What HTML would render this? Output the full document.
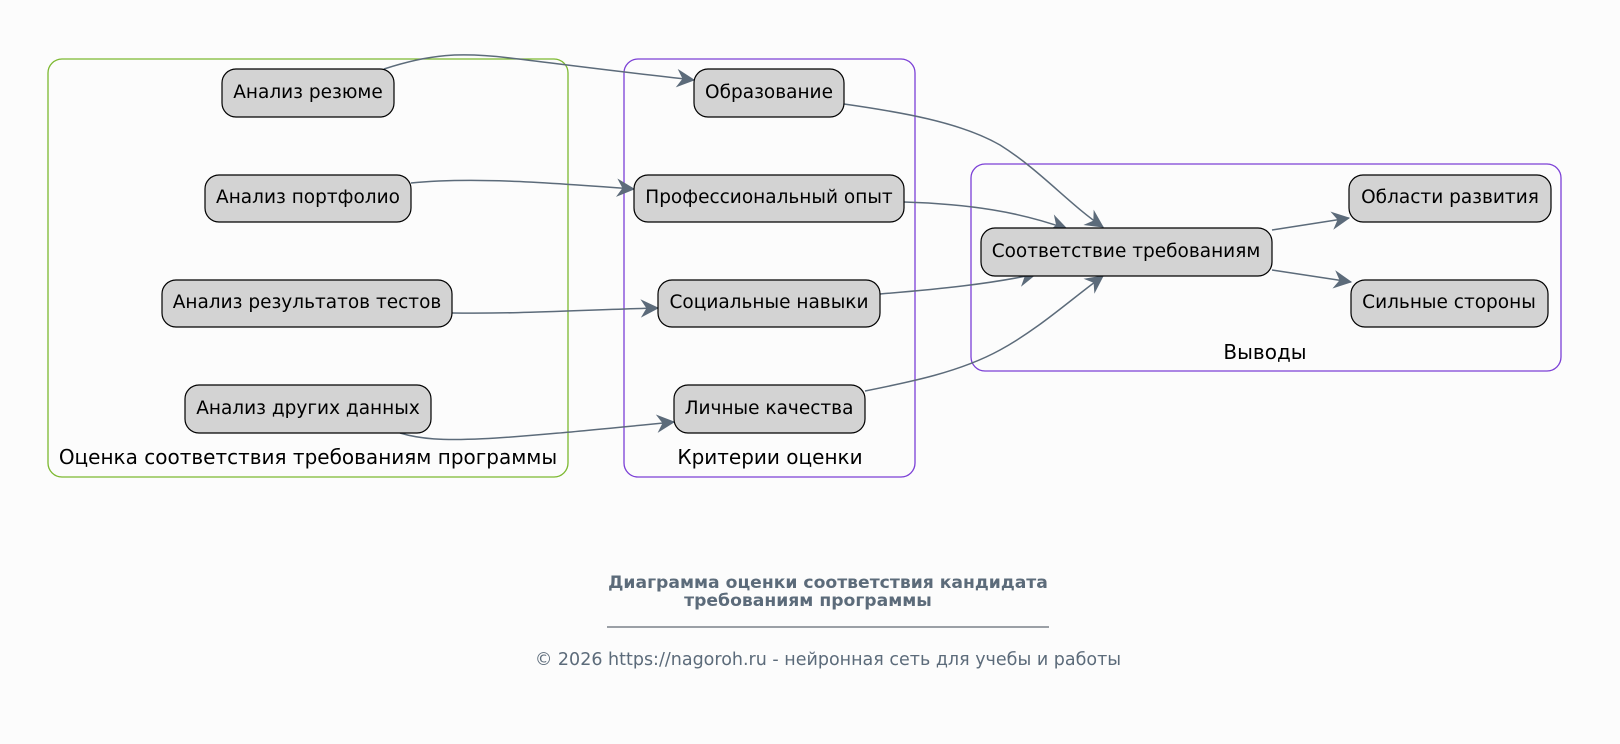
<!DOCTYPE html>
<html><head><meta charset="utf-8"><style>
html,body{margin:0;padding:0;background:#fcfcfc;}
svg{display:block;}
text{font-family:"DejaVu Sans","Liberation Sans",sans-serif;}
</style></head><body>
<svg width="1620" height="744" viewBox="0 0 1620 744" xmlns="http://www.w3.org/2000/svg">
<defs>
<marker id="a" viewBox="0 0 20 20" refX="18" refY="10" markerWidth="20" markerHeight="20" markerUnits="userSpaceOnUse" orient="auto">
<path d="M2,2 L18,10 L2,18 L7,10 Z" fill="#5c6b7a" stroke="#5c6b7a" stroke-width="1"/>
</marker>
</defs>
<rect width="1620" height="744" fill="#fcfcfc"/>
<rect x="48" y="59" width="520" height="418" rx="14" fill="none" stroke="#7cb82f" stroke-width="1.3"/>
<rect x="624" y="59" width="291" height="418" rx="14" fill="none" stroke="#7b3fd6" stroke-width="1.3"/>
<rect x="971" y="164" width="590" height="207" rx="14" fill="none" stroke="#7b3fd6" stroke-width="1.3"/>
<g font-size="20" fill="#000" text-anchor="middle">
<text x="308" y="464">Оценка соответствия требованиям программы</text>
<text x="770" y="464">Критерии оценки</text>
<text x="1265" y="359">Выводы</text>
</g>
<g fill="none" stroke="#5c6b7a" stroke-width="1.5" marker-end="url(#a)">
<path d="M384,69 C430,54 460,52 510,58 C560,64 620,72 694,80"/>
<path d="M411,183 C470,177 540,182 634,189"/>
<path d="M452,313 C520,314 580,310 658,308"/>
<path d="M400,433 C440,445 490,440 674,422"/>
<path d="M844,104 C900,112 960,122 1000,145 C1040,170 1070,205 1103,227"/>
<path d="M904,202 C970,204 1020,212 1067,229"/>
<path d="M880,294 C940,289 990,284 1036,274"/>
<path d="M865,391 C910,382 960,372 1000,350 C1040,328 1070,300 1103,276"/>
<path d="M1272,230 L1349,218"/>
<path d="M1272,270 L1351,282"/>
</g>
<g fill="#d3d3d3" stroke="#000" stroke-width="1.2">
<rect x="222" y="69" width="172" height="48" rx="14"/>
<rect x="205" y="175" width="206" height="47" rx="14"/>
<rect x="162" y="280" width="290" height="47" rx="14"/>
<rect x="185" y="385" width="246" height="48" rx="14"/>
<rect x="694" y="69" width="150" height="48" rx="14"/>
<rect x="634" y="175" width="270" height="47" rx="14"/>
<rect x="658" y="280" width="222" height="47" rx="14"/>
<rect x="674" y="385" width="191" height="48" rx="14"/>
<rect x="981" y="228" width="291" height="48" rx="14"/>
<rect x="1349" y="175" width="202" height="47" rx="14"/>
<rect x="1351" y="280" width="197" height="47" rx="14"/>
</g>
<g font-size="18.5" fill="#000" text-anchor="middle">
<text x="308" y="98">Анализ резюме</text>
<text x="308" y="203">Анализ портфолио</text>
<text x="307" y="308">Анализ результатов тестов</text>
<text x="308" y="414">Анализ других данных</text>
<text x="769" y="98">Образование</text>
<text x="769" y="203">Профессиональный опыт</text>
<text x="769" y="308">Социальные навыки</text>
<text x="769" y="414">Личные качества</text>
<text x="1126" y="257">Соответствие требованиям</text>
<text x="1450" y="203">Области развития</text>
<text x="1449" y="308">Сильные стороны</text>
</g>
<g fill="#5c6b7a" text-anchor="middle">
<text x="828" y="588" font-size="17.2" font-weight="bold">Диаграмма оценки соответствия кандидата</text>
<text x="808" y="606" font-size="17.2" font-weight="bold">требованиям программы</text>
<text x="828" y="665" font-size="17.5">© 2026 https://nagoroh.ru - нейронная сеть для учебы и работы</text>
</g>
<line x1="607" y1="627" x2="1049" y2="627" stroke="#3a4450" stroke-width="1"/>
</svg>
</body></html>
